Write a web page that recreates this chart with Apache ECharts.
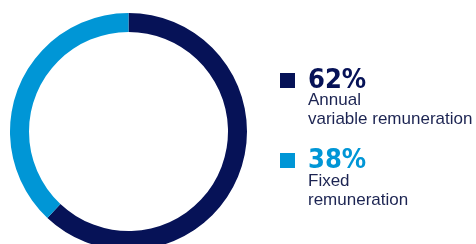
<!DOCTYPE html>
<html>
<head>
<meta charset="utf-8">
<script src="https://cdn.jsdelivr.net/npm/echarts@6/dist/echarts.min.js"></script>
<style>
  html, body { margin: 0; padding: 0; background: #fff; }
  #chart { width: 476px; height: 244px; }
</style>
</head>
<body>
<div id="chart"></div>
<script>
const names = ['Annual variable remuneration', 'Fixed remuneration'];
const values = [62, 38];
const descLines = [['Annual', 'variable remuneration'], ['Fixed', 'remuneration']];
const colors = ['#061257', '#0096d6'];

function buildRich()
{
    const rich = {};
    colors.forEach((c, i) => {
        rich['p' + i] = {
            fontFamily: "'DejaVu Sans', sans-serif",
            fontWeight: 'bold condensed', fontSize: 27, lineHeight: 28, color: c
        };
    });
    return rich;
}

// description text under each percentage
function buildDescriptions()
{
    return descLines.map((lines, i) => ({
        type: 'text',
        left: 308,
        top: 91 + i * 81,
        silent: true,
        style: {
            text: lines.join('\n'),
            font: "17px 'Liberation Sans', Arial, sans-serif",
            lineHeight: 19,
            fill: '#1c2452'
        }
    }));
}

const chart = echarts.init(document.getElementById('chart'));

chart.setOption({
    animation: false,
    color: colors,
    legend: {
        orient: 'vertical',
        left: 280,
        top: 67,
        padding: 0,
        itemGap: 53,
        itemWidth: 15,
        itemHeight: 15,
        icon: 'rect',
        selectedMode: false,
        data: names,
        textStyle: { padding: [0, 0, 0, 8], rich: buildRich() },
        formatter: (name) => {
            const i = names.indexOf(name);
            return '{p' + i + '|' + values[i] + '%}';
        }
    },
    graphic: buildDescriptions(),
    series: [{
        type: 'pie',
        center: [128.5, 131.5],
        radius: [99.5, 118.5],
        startAngle: 90,
        clockwise: true,
        silent: true,
        label: { show: false },
        labelLine: { show: false },
        itemStyle: { borderWidth: 0 },
        data: names.map((n, i) => ({ name: n, value: values[i] }))
    }]
});
</script>
</body>
</html>
